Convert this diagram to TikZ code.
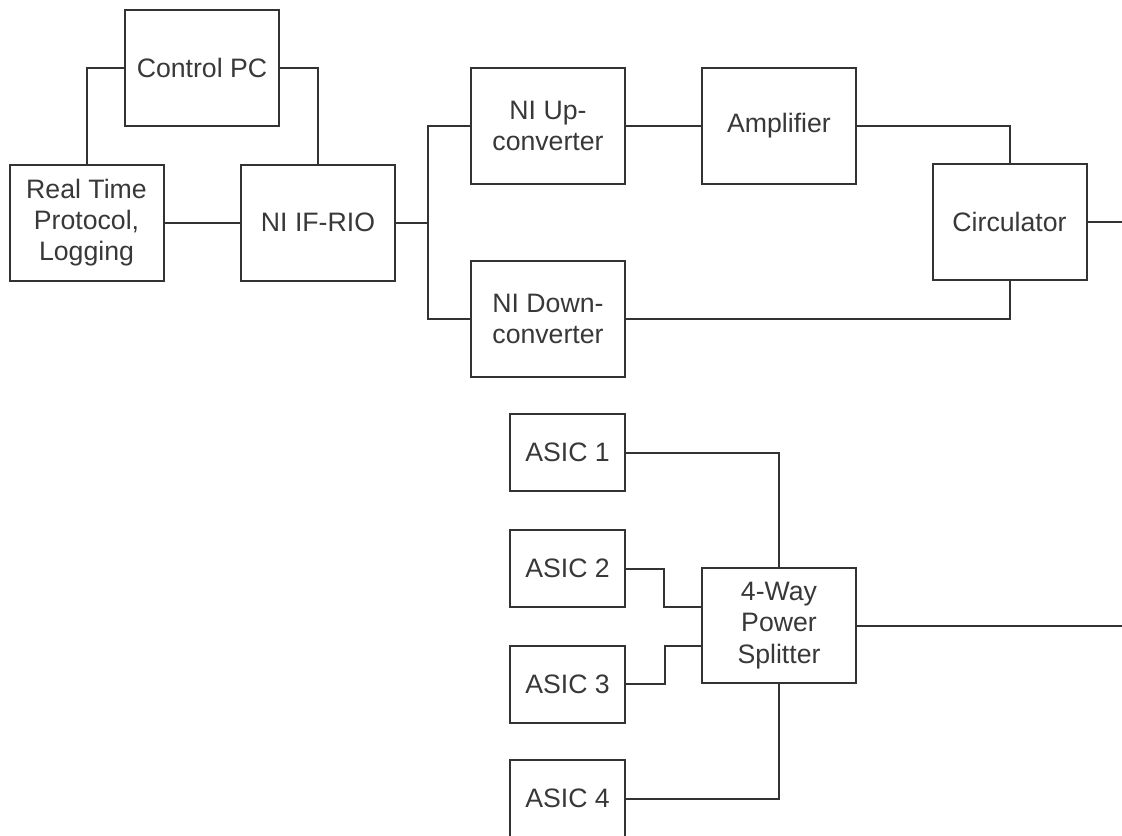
\documentclass[tikz,border=0pt]{standalone}
\usepackage{fontspec}
\setmainfont{Liberation Sans}
\usepackage{tikz}
\usetikzlibrary{calc,positioning}
\colorlet{lineA}{black!80}
\colorlet{textA}{black!78}

\begin{document}
\begin{tikzpicture}[x=0.75pt, y=-0.75pt,
    blk/.style={draw=lineA, line width=1.5pt, text=textA, align=center,
      minimum width=115.5pt, minimum height=87pt, inner sep=0pt,
      font=\fontsize{20}{23.5}\selectfont},
    asic/.style={blk, minimum width=86.25pt, minimum height=57.75pt},
    wire/.style={draw=lineA, line width=1.5pt}]
  \useasboundingbox (0,0) rectangle (1122,836);

  % Control side
  \node[blk] (ctrl) at (202, 68) {Control PC};
  \node[blk] (rtp)  at (86.5, 222.5) {Real Time\\Protocol,\\Logging};
  \node[blk] (rio)  at (318, 222.5) {NI IF-RIO};

  % RF chain
  \node[blk] (up)   at (548, 126) {NI Up-\\converter};
  \node[blk] (amp)  at (779, 126) {Amplifier};
  \node[blk] (circ) at (1009.5, 222) {Circulator};
  \node[blk] (down) at (548, 319) {NI Down-\\converter};

  % Splitter and ASICs
  \node[blk, minimum height=86pt] (split) at (779, 625.5) {4-Way\\Power\\Splitter};
  \node[asic] (asic1) at (567.5, 452.5) {ASIC 1};
  \node[asic] (asic2) at (567.5, 568.5) {ASIC 2};
  \node[asic] (asic3) at (567.5, 684) {ASIC 3};
  \node[asic] (asic4) at (567.5, 798.5) {ASIC 4};

  % Junction points
  \coordinate (bus)  at (428, 222.5);
  \coordinate (edge) at (1122.7, 222);

  % Wires
  \draw[wire] (ctrl.west) -| (rtp.north);
  \draw[wire] (ctrl.east) -| (rio.north);
  \draw[wire] (rtp) -- (rio);
  \draw[wire] (rio.east) -- (bus);
  \draw[wire] (up.west) -| (bus) |- (down.west);
  \draw[wire] (up) -- (amp);
  \draw[wire] (amp.east) -| (circ.north);
  \draw[wire] (circ.south) |- (down.east);
  \draw[wire] (circ.east) -- (edge) |- (split.east);

  \draw[wire] (asic1.east) -| (split.north);
  \draw[wire] (asic4.east) -| (split.south);
  \draw[wire] (asic2.east) -- ++(38,0) |- ($(split.west)+(0,-19)$);
  \draw[wire] (asic3.east) -- ++(39,0) |- ($(split.west)+(0,20.5)$);
\end{tikzpicture}
\end{document}
